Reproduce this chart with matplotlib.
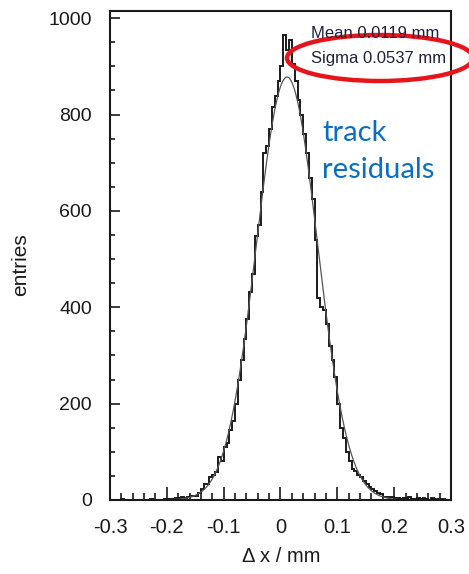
import numpy as np
import matplotlib
matplotlib.use("Agg")
import matplotlib.pyplot as plt
from matplotlib.patches import Ellipse

# histogram of residuals: 120 bins from -0.3 to 0.3 mm
x_lo, x_hi, n_bins = -0.3, 0.3, 120
counts = [
    0, 1, 0, 0, 2, 0, 0, 1, 0, 0, 0, 1, 0, 0, 2, 0, 1, 0, 1, 2,          # -0.30 .. -0.20
    2, 3, 2, 4, 5, 6, 5, 7, 8, 8, 9, 14, 22, 33, 34, 48, 52, 58, 90, 80,   # -0.20 .. -0.10
    110, 118, 145, 165, 200, 250, 290, 335, 375, 432, 470, 548, 570, 640, 720, 735, 770, 815, 838, 870,  # -0.10 .. 0
    900, 965, 935, 955, 905, 870, 830, 800, 760, 720, 668, 625, 540, 420, 400, 395, 365, 320, 290, 255,  # 0 .. 0.10
    200, 150, 128, 100, 80, 64, 60, 52, 48, 40, 33, 27, 22, 18, 14, 12, 7, 6, 6, 7,  # 0.10 .. 0.20
    5, 4, 2, 5, 3, 6, 2, 3, 5, 2, 4, 3, 1, 4, 2, 3, 1, 2, 0, 1,  # 0.20 .. 0.30
]

# gaussian fit result
fit_amp = 878
fit_mean = 0.0115
fit_sigma = 0.0537
stat_lines = ["Mean 0.0119 mm", "Sigma 0.0537 mm"]

xticks = [-0.3, -0.2, -0.1, 0, 0.1, 0.2, 0.3]
xtick_labels = ["-0.3", "-0.2", "-0.1", "0", "0.1", "0.2", "0.3"]
yticks = [0, 200, 400, 600, 800, 1000]

plt.rcParams['font.family'] = ['Liberation Sans', 'DejaVu Sans']

W, H = 469, 574
fig = plt.figure(figsize=(W / 100, H / 100), dpi=100)
ax = fig.add_axes([110 / W, 1 - 500 / H, 341 / W, 489 / H])

edges = np.linspace(x_lo, x_hi, n_bins + 1)
ax.stairs(counts, edges, color='#1a1a1a', lw=1.4)

xf = np.linspace(x_lo, x_hi, 600)
yf = fit_amp * np.exp(-0.5 * ((xf - fit_mean) / fit_sigma) ** 2)
ax.plot(xf, yf, color='#555555', lw=0.9)

ax.set_xlim(x_lo, x_hi)
ax.set_ylim(0, 1015)
ax.set_xticks(xticks)
ax.set_xticklabels(xtick_labels)
ax.set_xticks(np.arange(-0.3, 0.301, 0.02), minor=True)
ax.set_yticks(yticks)
ax.set_yticks(np.arange(0, 1001, 50), minor=True)

ax.tick_params(axis='x', which='major', direction='in', length=9.5, width=1.2,
               labelsize=14.5, pad=13, colors='#1a1a1a')
ax.tick_params(axis='x', which='minor', direction='in', length=5, width=1.2, colors='#1a1a1a')
ax.tick_params(axis='y', which='major', direction='in', length=7.5, width=1.2,
               labelsize=14, pad=13, colors='#1a1a1a')
ax.tick_params(axis='y', which='minor', direction='in', length=3.8, width=1.2, colors='#1a1a1a')
for s in ax.spines.values():
    s.set_linewidth(1.5)
    s.set_color('#1a1a1a')

fig.text(281 / W, 1 - 557 / H, "\u0394 x / mm", ha='center', va='center',
         fontsize=14.5, color='#1a1a1a')
fig.text(21 / W, 1 - 265 / H, "entries", ha='center', va='center',
         rotation=90, fontsize=15, color='#1a1a1a')

# stats box text
fig.text(311 / W, 1 - 33 / H, stat_lines[0], ha='left', va='center',
         fontsize=12, color='#1f2040')
fig.text(311 / W, 1 - 58 / H, stat_lines[1], ha='left', va='center',
         fontsize=12, color='#1f2040')

# red highlight ellipse
ell = Ellipse((380 / W, 1 - 58 / H), 186 / W, 46 / H, transform=fig.transFigure,
              fill=False, edgecolor='#e8141b', lw=3.2, clip_on=False)
fig.patches.append(ell)

fig.text(322 / W, 1 - 133 / H, "track", ha='left', va='center',
         fontsize=21, color='#0a6fc2', family=['Lato', 'DejaVu Sans'])
fig.text(322 / W, 1 - 170 / H, "residuals", ha='left', va='center',
         fontsize=21, color='#0a6fc2', family=['Lato', 'DejaVu Sans'])

fig.savefig("out.png", dpi=100)
